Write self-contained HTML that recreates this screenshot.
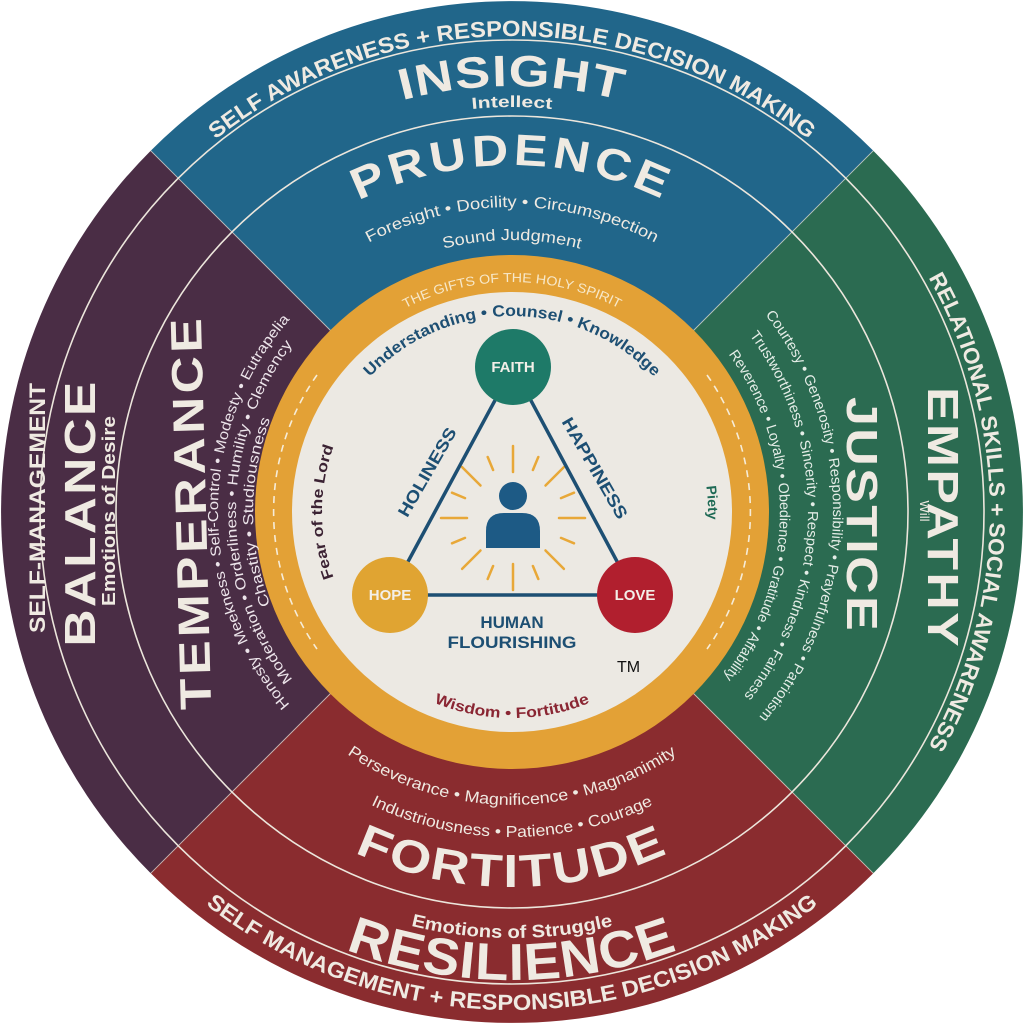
<!DOCTYPE html>
<html><head><meta charset="utf-8"><style>
html,body{margin:0;padding:0;background:#fff;width:1024px;height:1024px;overflow:hidden}
svg{display:block}
text{font-family:"Liberation Sans",Arial,sans-serif}
.w{fill:#efeae2}
.b{font-weight:bold}
</style></head><body>
<svg width="1024" height="1024" viewBox="0 0 1024 1024" xmlns="http://www.w3.org/2000/svg">
<defs>
<path id="t476" d="M36,512 A476 476 0 0 1 988,512"/>
<path id="t426" d="M86,512 A426 426 0 0 1 938,512"/>
<path id="t405" d="M107,512 A405 405 0 0 1 917,512"/>
<path id="t347" d="M165,512 A347 347 0 0 1 859,512"/>
<path id="t305" d="M207,512 A305 305 0 0 1 817,512"/>
<path id="t272" d="M240,512 A272 272 0 0 1 784,512"/>
<path id="t230" d="M282,512 A230 230 0 0 1 742,512"/>
<path id="t196" d="M316,512 A196 196 0 0 1 708,512"/>
<path id="b206" d="M306,512 A206 206 0 0 0 718,512"/>
<path id="b293" d="M219,512 A293 293 0 0 0 805,512"/>
<path id="b325" d="M187,512 A325 325 0 0 0 837,512"/>
<path id="b375" d="M137,512 A375 375 0 0 0 887,512"/>
<path id="b426" d="M86,512 A426 426 0 0 0 938,512"/>
<path id="b468" d="M44,512 A468 468 0 0 0 980,512"/>
<path id="b498" d="M14,512 A498 498 0 0 0 1010,512"/>
<path id="r478" d="M512,34 A478 478 0 0 1 512,990"/>
<path id="r321" d="M512,191 A321 321 0 0 1 512,833"/>
<path id="r296" d="M512,216 A296 296 0 0 1 512,808"/>
<path id="r268" d="M512,244 A268 268 0 0 1 512,780"/>
<path id="r196" d="M512,316 A196 196 0 0 1 512,708"/>
<path id="l294" d="M512,806 A294 294 0 0 1 512,218"/>
<path id="l276" d="M512,788 A276 276 0 0 1 512,236"/>
<path id="l259" d="M512,771 A259 259 0 0 1 512,253"/>
<path id="l190" d="M512,702 A190 190 0 0 1 512,322"/>
</defs>

<path d="M512,512 L150.7,150.7 A511 511 0 0 1 873.3,150.7 Z" fill="#21668a"/>
<path d="M512,512 L873.3,150.7 A511 511 0 0 1 873.3,873.3 Z" fill="#2b6b51"/>
<path d="M512,512 L873.3,873.3 A511 511 0 0 1 150.7,873.3 Z" fill="#8a2c2f"/>
<path d="M512,512 L150.7,873.3 A511 511 0 0 1 150.7,150.7 Z" fill="#4a2d45"/>
<g stroke="#e8e2d8" stroke-width="1" opacity="0.7">
<line x1="150.7" y1="150.7" x2="873.3" y2="873.3"/>
<line x1="873.3" y1="150.7" x2="150.7" y2="873.3"/>
</g>
<circle cx="512" cy="512" r="472" fill="none" stroke="#ece6dc" stroke-width="1.6"/>
<circle cx="512" cy="512" r="396" fill="none" stroke="#ece6dc" stroke-width="1.6"/>

<circle cx="512" cy="512" r="257" fill="#e3a136"/>
<path d="M317,375 A238 238 0 0 0 317,649" fill="none" stroke="#f6ecd8" stroke-width="1.6" stroke-dasharray="7 6"/>
<path d="M707,375 A238 238 0 0 1 707,649" fill="none" stroke="#f6ecd8" stroke-width="1.6" stroke-dasharray="7 6"/>
<circle cx="512" cy="512" r="220" fill="#ece9e3"/>

<text class="w b" font-size="22"><textPath href="#t476" startOffset="50%" text-anchor="middle" textLength="640" lengthAdjust="spacingAndGlyphs">SELF AWARENESS + RESPONSIBLE DECISION MAKING</textPath></text>
<text class="w b" font-size="44" letter-spacing="1"><textPath href="#t426" startOffset="50%" text-anchor="middle" textLength="222" lengthAdjust="spacingAndGlyphs">INSIGHT</textPath></text>
<text class="w b" font-size="16"><textPath href="#t405" startOffset="50%" text-anchor="middle" textLength="80" lengthAdjust="spacingAndGlyphs">Intellect</textPath></text>
<text class="w b" font-size="44" letter-spacing="4"><textPath href="#t347" startOffset="50%" text-anchor="middle" textLength="318" lengthAdjust="spacingAndGlyphs">PRUDENCE</textPath></text>
<text class="w" font-size="16"><textPath href="#t305" startOffset="50%" text-anchor="middle" textLength="298" lengthAdjust="spacingAndGlyphs">Foresight • Docility • Circumspection</textPath></text>
<text class="w" font-size="16"><textPath href="#t272" startOffset="50%" text-anchor="middle" textLength="138" lengthAdjust="spacingAndGlyphs">Sound Judgment</textPath></text>

<text class="w" font-size="16"><textPath href="#b293" startOffset="50%" text-anchor="middle" textLength="350" lengthAdjust="spacingAndGlyphs">Perseverance • Magnificence • Magnanimity</textPath></text>
<text class="w" font-size="16"><textPath href="#b325" startOffset="50%" text-anchor="middle" textLength="292" lengthAdjust="spacingAndGlyphs">Industriousness • Patience • Courage</textPath></text>
<text class="w b" font-size="46" letter-spacing="2"><textPath href="#b375" startOffset="50%" text-anchor="middle" textLength="325" lengthAdjust="spacingAndGlyphs">FORTITUDE</textPath></text>
<text class="w b" font-size="18"><textPath href="#b426" startOffset="50%" text-anchor="middle" textLength="204" lengthAdjust="spacingAndGlyphs">Emotions of Struggle</textPath></text>
<text class="w b" font-size="52" letter-spacing="1"><textPath href="#b468" startOffset="50%" text-anchor="middle" textLength="340" lengthAdjust="spacingAndGlyphs">RESILIENCE</textPath></text>
<text class="w b" font-size="22"><textPath href="#b498" startOffset="50%" text-anchor="middle" textLength="660" lengthAdjust="spacingAndGlyphs">SELF MANAGEMENT + RESPONSIBLE DECISION MAKING</textPath></text>

<text class="w b" font-size="22"><textPath href="#r478" startOffset="50%" text-anchor="middle" textLength="490" lengthAdjust="spacingAndGlyphs">RELATIONAL SKILLS + SOCIAL AWARENESS</textPath></text>
<text class="w b" font-size="44" letter-spacing="2" text-anchor="middle" textLength="262" lengthAdjust="spacingAndGlyphs" transform="translate(928,518) rotate(90)">EMPATHY</text>
<text class="w" font-size="13" text-anchor="middle" transform="translate(920,511) rotate(90)">Will</text>
<text class="w b" font-size="44" letter-spacing="2" text-anchor="middle" textLength="236" lengthAdjust="spacingAndGlyphs" transform="translate(847,515) rotate(90)">JUSTICE</text>
<text fill="#e4ede7" font-size="14.5"><textPath href="#r321" startOffset="50.5%" text-anchor="middle" textLength="435" lengthAdjust="spacingAndGlyphs">Courtesy • Generosity • Responsibility • Prayerfulness • Patriotism</textPath></text>
<text fill="#e4ede7" font-size="14.5"><textPath href="#r296" startOffset="50.5%" text-anchor="middle" textLength="388" lengthAdjust="spacingAndGlyphs">Trustworthiness • Sincerity • Respect • Kindness • Fairness</textPath></text>
<text fill="#e4ede7" font-size="14.5"><textPath href="#r268" startOffset="50.5%" text-anchor="middle" textLength="346" lengthAdjust="spacingAndGlyphs">Reverence • Loyalty • Obedience • Gratitude • Affability</textPath></text>

<text class="w b" font-size="22" text-anchor="middle" textLength="250" lengthAdjust="spacingAndGlyphs" transform="translate(45,508) rotate(-90)">SELF-MANAGEMENT</text>
<text class="w b" font-size="44" letter-spacing="2" text-anchor="middle" textLength="267" lengthAdjust="spacingAndGlyphs" transform="translate(95,513) rotate(-90)">BALANCE</text>
<text class="w b" font-size="18" text-anchor="middle" textLength="190" lengthAdjust="spacingAndGlyphs" transform="translate(115,511) rotate(-90)">Emotions of Desire</text>
<text class="w b" font-size="44" letter-spacing="3" text-anchor="middle" textLength="395" lengthAdjust="spacingAndGlyphs" transform="translate(206,512) rotate(-91.5)">TEMPERANCE</text>
<text fill="#ece4ea" font-size="14.5"><textPath href="#l294" startOffset="50%" text-anchor="middle" textLength="420" lengthAdjust="spacingAndGlyphs">Honesty • Meekness • Self-Control • Modesty • Eutrapelia</textPath></text>
<text fill="#ece4ea" font-size="14.5"><textPath href="#l276" startOffset="50%" text-anchor="middle" textLength="360" lengthAdjust="spacingAndGlyphs">Moderation • Orderliness • Humility • Clemency</textPath></text>
<text fill="#ece4ea" font-size="14.5"><textPath href="#l259" startOffset="50%" text-anchor="middle" textLength="190" lengthAdjust="spacingAndGlyphs">Chastity • Studiousness</textPath></text>

<text fill="#f7e8c9" font-size="13"><textPath href="#t230" startOffset="50%" text-anchor="middle" textLength="222" lengthAdjust="spacingAndGlyphs">THE GIFTS OF THE HOLY SPIRIT</textPath></text>
<text fill="#1d4f73" class="b" font-size="16"><textPath href="#t196" startOffset="50%" text-anchor="middle" textLength="318" lengthAdjust="spacingAndGlyphs">Understanding • Counsel • Knowledge</textPath></text>
<text fill="#8a2633" class="b" font-size="15"><textPath href="#b206" startOffset="50%" text-anchor="middle" textLength="160" lengthAdjust="spacingAndGlyphs">Wisdom • Fortitude</textPath></text>
<text fill="#3b2233" class="b" font-size="15"><textPath href="#l190" startOffset="50%" text-anchor="middle" textLength="134" lengthAdjust="spacingAndGlyphs">Fear of the Lord</textPath></text>
<text fill="#1e6a55" class="b" font-size="14"><textPath href="#r196" startOffset="48.5%" text-anchor="middle">Piety</textPath></text>

<g stroke="#e8a838" stroke-width="2.5" stroke-linecap="round">
<line x1="559" y1="518" x2="585" y2="518"/>
<line x1="545.5" y1="550.5" x2="563.9" y2="568.9"/>
<line x1="513" y1="564" x2="513" y2="590"/>
<line x1="480.5" y1="550.5" x2="462.1" y2="568.9"/>
<line x1="467" y1="518" x2="441" y2="518"/>
<line x1="480.5" y1="485.5" x2="462.1" y2="467.1"/>
<line x1="513" y1="472" x2="513" y2="446"/>
<line x1="545.5" y1="485.5" x2="563.9" y2="467.1"/>
<line x1="561" y1="537.9" x2="574" y2="543.3"/>
<line x1="532.9" y1="566" x2="538.3" y2="579"/>
<line x1="493.1" y1="566" x2="487.7" y2="579"/>
<line x1="465" y1="537.9" x2="452" y2="543.3"/>
<line x1="465" y1="498.1" x2="452" y2="492.7"/>
<line x1="493.1" y1="470" x2="487.7" y2="457"/>
<line x1="532.9" y1="470" x2="538.3" y2="457"/>
<line x1="561" y1="498.1" x2="574" y2="492.7"/>
</g>
<circle cx="513" cy="496" r="14" fill="#1d5a85"/>
<path d="M486,548 L486,531 Q486,513 504,513 L522,513 Q540,513 540,531 L540,548 Z" fill="#1d5a85"/>

<g stroke="#1d4f73" stroke-width="3.5" fill="none">
<line x1="513" y1="367" x2="390" y2="595"/>
<line x1="513" y1="367" x2="635" y2="595"/>
<line x1="390" y1="595" x2="635" y2="595"/>
</g>
<circle cx="513" cy="367" r="38" fill="#1e7a68"/>
<circle cx="390" cy="595" r="38" fill="#e0a432"/>
<circle cx="635" cy="595" r="38" fill="#b11f2e"/>
<text x="513" y="372" fill="#f3efe8" class="b" font-size="15" text-anchor="middle">FAITH</text>
<text x="390" y="600" fill="#f3efe8" class="b" font-size="15" text-anchor="middle">HOPE</text>
<text x="635" y="600" fill="#f3efe8" class="b" font-size="15" text-anchor="middle">LOVE</text>
<text fill="#1d4f73" class="b" font-size="17" text-anchor="middle" textLength="100" lengthAdjust="spacingAndGlyphs" transform="translate(427,472) rotate(-60)" y="6">HOLINESS</text>
<text fill="#1d4f73" class="b" font-size="17" text-anchor="middle" textLength="114" lengthAdjust="spacingAndGlyphs" transform="translate(595,468) rotate(60)" y="6">HAPPINESS</text>
<text x="512" y="628" fill="#1d4f73" class="b" font-size="17" text-anchor="middle">HUMAN</text>
<text x="512" y="648" fill="#1d4f73" class="b" font-size="17" text-anchor="middle" textLength="129" lengthAdjust="spacingAndGlyphs">FLOURISHING</text>
<text x="617" y="672" fill="#111" font-size="16">TM</text>
</svg>
</body></html>
